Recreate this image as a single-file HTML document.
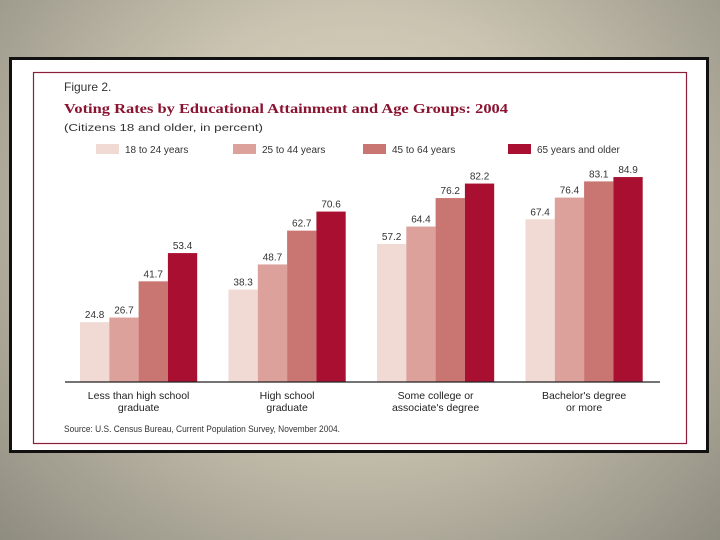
<!DOCTYPE html>
<html><head><meta charset="utf-8"><style>
body{margin:0;width:720px;height:540px;overflow:hidden;background:radial-gradient(ellipse at 50% 40%,#e4ddc8 0%,#c9c3b0 45%,#8f8c80 100%);font-family:"Liberation Sans",sans-serif;}
#card{position:absolute;left:9px;top:57px;width:694px;height:390px;background:#fff;border:3px solid #111;}
</style></head><body>
<div id="card"></div>
<svg width="720" height="540" style="position:absolute;left:0;top:0">
<rect x="33.5" y="72.5" width="653" height="371" fill="none" stroke="#8a1e3a" stroke-width="1.2"/>
<text x="64" y="91" font-size="12" fill="#333">Figure 2.</text>
<text x="64" y="113" font-size="14" font-weight="bold" font-family="Liberation Serif,serif" fill="#8a1330" textLength="444" lengthAdjust="spacingAndGlyphs">Voting Rates by Educational Attainment and Age Groups: 2004</text>
<text x="64" y="131" font-size="10.5" fill="#333" textLength="199" lengthAdjust="spacingAndGlyphs">(Citizens 18 and older, in percent)</text>
<g id="legend"></g>
<g id="bars"></g>
<line x1="65" y1="382" x2="660" y2="382" stroke="#222" stroke-width="1.2"/>
<g id="cats"></g>
<text x="64" y="432" font-size="9" fill="#333" textLength="276" lengthAdjust="spacingAndGlyphs">Source: U.S. Census Bureau, Current Population Survey, November 2004.</text>
</svg>
<script>
const categories=[["Less than high school","graduate"],["High school","graduate"],["Some college or","associate's degree"],["Bachelor's degree","or more"]];
const seriesNames=["18 to 24 years","25 to 44 years","45 to 64 years","65 years and older"];
const s18=[24.8,38.3,57.2,67.4];
const s25=[26.7,48.7,64.4,76.4];
const s45=[41.7,62.7,76.2,83.1];
const s65=[53.4,70.6,82.2,84.9];
const series=[s18,s25,s45,s65];
const colors=["#f1d9d4","#dda19c","#c97572","#a80f30"];
const NS="http://www.w3.org/2000/svg";
const y=v=>382-v*2.414;
const gx=i=>80+i*148.5;
const bw=29.3;
function mk(t,a,p){const e=document.createElementNS(NS,t);for(const k in a)e.setAttribute(k,a[k]);p.appendChild(e);return e;}
const bars=document.getElementById('bars');
series.forEach((s,si)=>s.forEach((v,ci)=>{
 const x=gx(ci)+si*bw;
 const r=mk('rect',{x:x,y:y(v),width:bw,height:382-y(v),fill:colors[si]},bars);
 
 
 const t=mk('text',{x:x+bw/2,y:y(v)-4,'font-size':10,'text-anchor':'middle',fill:'#333'},bars);
 t.textContent=v.toFixed(1);
 
 
}));
const cats=document.getElementById('cats');
categories.forEach((c,i)=>c.forEach((l,j)=>{
 const t=mk('text',{x:gx(i)+bw*2,y:399+j*12,'font-size':10.5,'text-anchor':'middle',fill:'#222'},cats);
 t.textContent=l;
 
 
}));
const lg=document.getElementById('legend');
const lx=[96,233,363,508];
seriesNames.forEach((n,i)=>{
 const r=mk('rect',{x:lx[i],y:144,width:23,height:10,fill:colors[i]},lg);
 
 
 const t=mk('text',{x:lx[i]+29,y:153,'font-size':10,fill:'#333'},lg);
 t.textContent=n;
 
 
});
</script>
</body></html>
